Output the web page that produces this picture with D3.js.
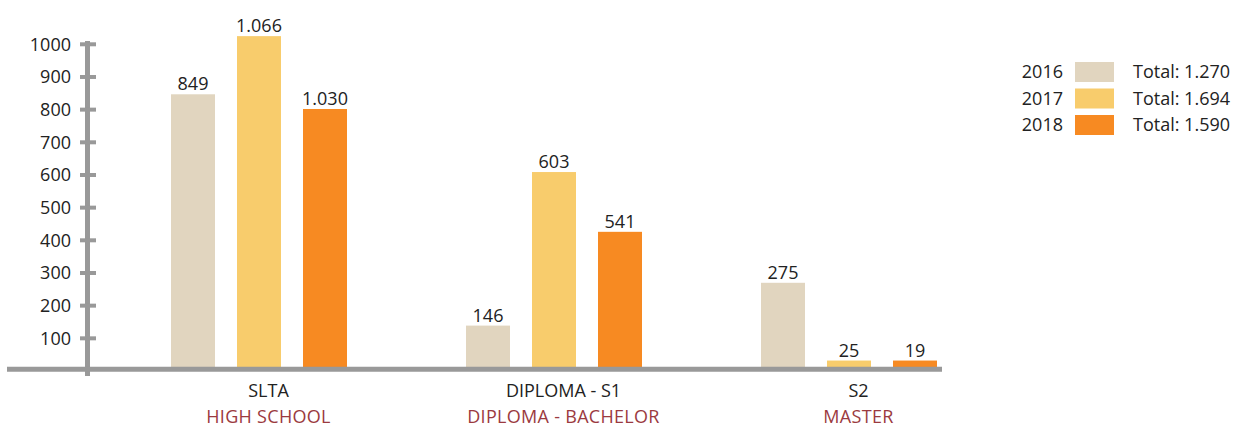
<!DOCTYPE html>
<html>
<head>
<meta charset="utf-8">
<script src="https://cdn.jsdelivr.net/npm/d3@7"></script>
<style>
  body { margin: 0; background: #fff; }
  svg text { font-family: "Open Sans", sans-serif; }
</style>
</head>
<body>
<div id="chart"></div>
<script>
// categories and sub labels
const categories = ["SLTA", "DIPLOMA - S1", "S2"];
const subLabels = ["HIGH SCHOOL", "DIPLOMA - BACHELOR", "MASTER"];
const years = ["2016", "2017", "2018"];
const totals = ["Total: 1.270", "Total: 1.694", "Total: 1.590"];

// bar heights as drawn in the picture (per year, per category)
const values2016 = [847, 139, 270];
const values2017 = [1025, 609, 32];
const values2018 = [802, 426, 32];

// printed labels above bars
const labels2016 = ["849", "146", "275"];
const labels2017 = ["1.066", "603", "25"];
const labels2018 = ["1.030", "541", "19"];

const yTicks = [100, 200, 300, 400, 500, 600, 700, 800, 900, 1000];
const colors = ["#e1d5bf", "#f8cc6c", "#f78a22"];

const width = 1243, height = 427;
const fontSize = 18;
const textColor = "#222";

const svg = d3.select("#chart").append("svg")
    .attr("width", width)
    .attr("height", height);

const series = [values2016, values2017, values2018];
const seriesLabels = [labels2016, labels2017, labels2018];

let data = [];
categories.forEach((c, i) => {
  years.forEach((yr, j) => {
    data.push({ cat: c, year: yr, value: series[j][i], label: seriesLabels[j][i] });
  });
});

const y = d3.scaleLinear()
    .domain([0, 1000])
    .range([371, 44.3]);

const x0 = d3.scaleBand()
    .domain(categories)
    .range([121, 121 + 295 * 3]);

const x1 = d3.scaleBand()
    .domain(years)
    .range([50, 50 + 176])
    .paddingInner(1 / 3);

const color = d3.scaleOrdinal().domain(years).range(colors);

// bars
svg.append("g").selectAll("rect")
  .data(data)
  .join("rect")
    .attr("x", d => x0(d.cat) + x1(d.year))
    .attr("y", d => y(d.value))
    .attr("width", x1.bandwidth())
    .attr("height", d => y(0) - y(d.value))
    .attr("fill", d => color(d.year));

// value labels
svg.append("g").selectAll("text")
  .data(data)
  .join("text")
    .attr("x", d => x0(d.cat) + x1(d.year) + x1.bandwidth() / 2)
    .attr("y", d => y(d.value) - 4)
    .attr("text-anchor", "middle")
    .attr("font-size", fontSize)
    .attr("fill", textColor)
    .text(d => d.label);

// y axis
const axisColor = "#999999";
svg.append("line")
    .attr("x1", 87.5).attr("x2", 87.5)
    .attr("y1", 41).attr("y2", 376)
    .attr("stroke", axisColor)
    .attr("stroke-width", 5);

const tick = svg.append("g").selectAll("g")
  .data(yTicks)
  .join("g")
    .attr("transform", d => "translate(0," + y(d) + ")");

tick.append("line")
    .attr("x1", 80).attr("x2", 96)
    .attr("stroke", axisColor)
    .attr("stroke-width", 4);

tick.append("text")
    .attr("x", 71)
    .attr("dy", "0.35em")
    .attr("text-anchor", "end")
    .attr("font-size", fontSize)
    .attr("fill", textColor)
    .text(d => d);

// baseline
svg.append("line")
    .attr("x1", 7).attr("x2", 942)
    .attr("y1", 369.2).attr("y2", 369.2)
    .attr("stroke", axisColor)
    .attr("stroke-width", 5);

// category labels
const catLabel = svg.append("g").selectAll("g")
  .data(categories)
  .join("g")
    .attr("transform", d => "translate(" + (x0(d) + x0.bandwidth() / 2) + ",0)");

catLabel.append("text")
    .attr("y", 397)
    .attr("text-anchor", "middle")
    .attr("font-size", fontSize)
    .attr("fill", textColor)
    .text(d => d);

catLabel.append("text")
    .attr("y", 423)
    .attr("text-anchor", "middle")
    .attr("font-size", fontSize)
    .attr("letter-spacing", 0.3)
    .attr("fill", "#9b3a40")
    .text((d, i) => subLabels[i]);

// legend
const legend = svg.append("g").selectAll("g")
  .data(years)
  .join("g")
    .attr("transform", (d, i) => "translate(0," + (72 + i * 26.5) + ")");

legend.append("text")
    .attr("x", 1063)
    .attr("dy", "0.35em")
    .attr("text-anchor", "end")
    .attr("font-size", fontSize)
    .attr("fill", textColor)
    .text(d => d);

legend.append("rect")
    .attr("x", 1075)
    .attr("y", -10)
    .attr("width", 39)
    .attr("height", 20)
    .attr("fill", d => color(d));

legend.append("text")
    .attr("x", 1133)
    .attr("dy", "0.35em")
    .attr("font-size", fontSize)
    .attr("fill", textColor)
    .text((d, i) => totals[i]);
</script>
</body>
</html>
